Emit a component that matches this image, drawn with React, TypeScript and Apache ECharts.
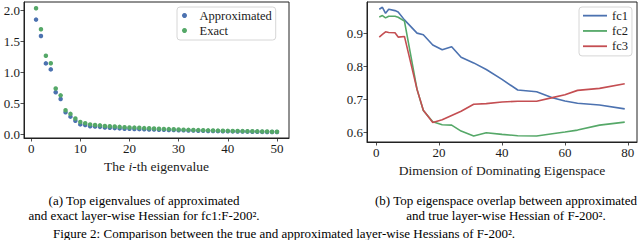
import React, { useEffect, useRef } from "react";
import * as echarts from "echarts";

// Panel (a): top-50 eigenvalues
const approximated = [
  1.855, 1.59, 1.147, 1.05, 0.68, 0.57, 0.355, 0.285, 0.22, 0.16,
  0.15, 0.13, 0.125, 0.12, 0.11, 0.105, 0.1, 0.095, 0.09, 0.088,
  0.085, 0.083, 0.08, 0.078, 0.076, 0.074, 0.072, 0.07, 0.068, 0.066,
  0.064, 0.062, 0.06, 0.058, 0.056, 0.054, 0.053, 0.051, 0.05, 0.048,
  0.047, 0.045, 0.044, 0.043, 0.041, 0.04, 0.039, 0.038, 0.037, 0.036,
];
const exact = [
  2.04, 1.7, 1.27, 1.15, 0.74, 0.63, 0.39, 0.33, 0.255, 0.2,
  0.18, 0.16, 0.15, 0.145, 0.135, 0.13, 0.125, 0.12, 0.115, 0.11,
  0.108, 0.105, 0.1, 0.097, 0.093, 0.09, 0.087, 0.084, 0.081, 0.078,
  0.075, 0.072, 0.07, 0.068, 0.066, 0.064, 0.062, 0.06, 0.058, 0.056,
  0.054, 0.053, 0.051, 0.05, 0.048, 0.047, 0.045, 0.044, 0.042, 0.04,
];
const eigXTicks = [0, 10, 20, 30, 40, 50];
const eigYTicks = [0, 0.5, 1.0, 1.5, 2.0];

// Panel (b): eigenspace overlap
const dims = [1, 2, 3, 4, 6, 7, 9, 13, 15, 18, 21, 24, 27, 31, 35, 40, 45, 51, 56, 60, 64, 71, 79];
const fc1 = [0.972, 0.978, 0.96, 0.972, 0.968, 0.964, 0.94, 0.9, 0.895, 0.864, 0.85, 0.859, 0.827, 0.81, 0.79, 0.76, 0.728, 0.723, 0.705, 0.695, 0.688, 0.683, 0.671];
const fc2 = [0.949, 0.953, 0.946, 0.951, 0.951, 0.948, 0.936, 0.73, 0.666, 0.632, 0.623, 0.622, 0.604, 0.589, 0.599, 0.594, 0.59, 0.589, 0.596, 0.601, 0.607, 0.622, 0.631];
const fc3 = [0.888, 0.896, 0.904, 0.902, 0.901, 0.888, 0.89, 0.73, 0.667, 0.63, 0.638, 0.651, 0.664, 0.685, 0.687, 0.692, 0.694, 0.694, 0.705, 0.714, 0.727, 0.733, 0.747];
const dimXTicks = [0, 20, 40, 60, 80];
const overlapYTicks = [0.6, 0.7, 0.8, 0.9];

const captionA = ["(a) Top eigenvalues of approximated", "and exact layer-wise Hessian for fc1:F-200\u00b2."];
const captionB = ["(b) Top eigenspace overlap between approximated", "and true layer-wise Hessian of F-200\u00b2."];
const figureCaption = "Figure 2: Comparison between the true and approximated layer-wise Hessians of F-200\u00b2.";

const BLUE = "#4c72b0";
const GREEN = "#55a868";
const RED = "#c44e52";
const FONT = "'Liberation Serif', 'Times New Roman', 'DejaVu Serif', serif";
const INK = "#1a1a1a";

export default function App() {
  const ref = useRef<HTMLDivElement>(null);

  useEffect(() => {
    const chart = echarts.init(ref.current!, null, { renderer: "svg" });

    const axisBase = (ticks: number[], fmt: (v: number) => string) => ({
      axisLine: { show: true, onZero: false, lineStyle: { color: "#222", width: 1 } },
      axisTick: { show: true, length: 3.5, customValues: ticks, lineStyle: { color: "#222", width: 0.8 } },
      axisLabel: {
        customValues: ticks,
        formatter: (v: number) => fmt(v),
        color: INK,
        fontFamily: FONT,
        fontSize: 13,
        margin: 4,
      },
      splitLine: { show: false },
      nameTextStyle: { color: INK, fontFamily: FONT, fontSize: 13.5 },
    });

    const captionText = (text: string, x: number, y: number) => ({
      type: "text",
      silent: true,
      style: {
        text,
        x,
        y,
        align: "center",
        verticalAlign: "middle",
        fontFamily: FONT,
        fontSize: 13,
        fill: "#000",
      },
    });

    chart.setOption({
      animation: false,
      backgroundColor: "#fff",
      textStyle: { fontFamily: FONT },
      grid: [
        { left: 24, top: 2, width: 265, height: 136, show: true, borderColor: "#222", borderWidth: 1, backgroundColor: "transparent" },
        { left: 367, top: 2, width: 270, height: 140, show: true, borderColor: "#222", borderWidth: 1, backgroundColor: "transparent" },
      ],
      xAxis: [
        {
          type: "value",
          gridIndex: 0,
          min: -1.45,
          max: 52.45,
          name: "The {i|i}-th eigenvalue",
          nameLocation: "middle",
          nameGap: 21,
          ...axisBase(eigXTicks, (v) => String(v)),
          nameTextStyle: {
            color: INK,
            fontFamily: FONT,
            fontSize: 13.5,
            rich: { i: { fontStyle: "italic", fontFamily: FONT, fontSize: 13.5, color: INK } },
          },
        },
        {
          type: "value",
          gridIndex: 1,
          min: -2.9,
          max: 82.9,
          name: "Dimension of Dominating Eigenspace",
          nameLocation: "middle",
          nameGap: 21,
          ...axisBase(dimXTicks, (v) => String(v)),
        },
      ],
      yAxis: [
        {
          type: "value",
          gridIndex: 0,
          min: -0.06,
          max: 2.14,
          ...axisBase(eigYTicks, (v) => v.toFixed(1)),
        },
        {
          type: "value",
          gridIndex: 1,
          min: 0.571,
          max: 0.994,
          ...axisBase(overlapYTicks, (v) => v.toFixed(1)),
        },
      ],
      legend: [
        {
          data: ["Approximated", "Exact"],
          orient: "vertical",
          left: 177,
          top: 7,
          icon: "circle",
          itemWidth: 20,
          itemHeight: 5,
          itemGap: 0,
          padding: [1, 4, 2, 5],
          selectedMode: false,
          borderColor: "#d6d6d6",
          borderWidth: 1,
          borderRadius: 3,
          backgroundColor: "rgba(255,255,255,0.8)",
          textStyle: { fontFamily: FONT, fontSize: 12.5, color: INK, lineHeight: 15 },
        },
        {
          data: ["fc1", "fc2", "fc3"],
          orient: "vertical",
          left: 579,
          top: 7,
          icon: "rect",
          symbolKeepAspect: false,
          itemWidth: 24,
          itemHeight: 1.8,
          itemGap: 0,
          padding: [1, 4, 2, 4],
          selectedMode: false,
          borderColor: "#d6d6d6",
          borderWidth: 1,
          borderRadius: 3,
          backgroundColor: "rgba(255,255,255,0.8)",
          textStyle: { fontFamily: FONT, fontSize: 12.5, color: INK, lineHeight: 15.3 },
        },
      ],
      series: [
        {
          name: "Approximated",
          type: "scatter",
          xAxisIndex: 0,
          yAxisIndex: 0,
          symbol: "circle",
          symbolSize: 4.5,
          itemStyle: { color: BLUE, opacity: 1 },
          data: approximated.map((v, i) => [i + 1, v]),
        },
        {
          name: "Exact",
          type: "scatter",
          xAxisIndex: 0,
          yAxisIndex: 0,
          symbol: "circle",
          symbolSize: 4.5,
          itemStyle: { color: GREEN, opacity: 1 },
          data: exact.map((v, i) => [i + 1, v]),
        },
        ...[
          { name: "fc1", values: fc1, color: BLUE },
          { name: "fc2", values: fc2, color: GREEN },
          { name: "fc3", values: fc3, color: RED },
        ].map((s) => ({
          name: s.name,
          type: "line",
          xAxisIndex: 1,
          yAxisIndex: 1,
          showSymbol: false,
          symbol: "none",
          lineStyle: { color: s.color, width: 1.6 },
          itemStyle: { color: s.color },
          data: dims.map((d, i) => [d, s.values[i]]),
        })),
      ],
      graphic: [
        captionText(captionA[0], 144, 200),
        captionText(captionA[1], 144, 215.5),
        captionText(captionB[0], 506, 200),
        captionText(captionB[1], 506, 215.5),
        captionText(figureCaption, 284, 233),
      ],
    });

    return () => chart.dispose();
  }, []);

  return (
    <div
      ref={ref}
      style={{ position: "absolute", left: 0, top: 0, width: 640, height: 240, background: "#fff" }}
    />
  );
}
